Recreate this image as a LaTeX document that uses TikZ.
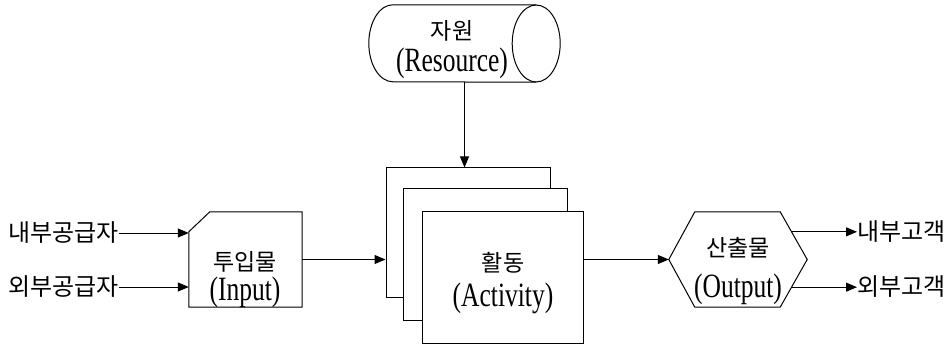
\documentclass[tikz,border=0pt]{standalone}
\usepackage{fontspec}
\setmainfont{Liberation Serif}[FakeStretch=0.75]
\newfontfamily\kr{Noto Sans CJK KR}
\usetikzlibrary{arrows.meta, calc, positioning}

\begin{document}
\begin{tikzpicture}[x=1pt,y=-1pt]
\tikzstyle{shp}=[draw=black, line width=1pt, fill=white, inner sep=0pt]
\tikzstyle{frame}=[inner sep=0pt]
\tikzstyle{edge}=[draw=black, line width=1pt, fill=white]
\tikzstyle{txt}=[inner sep=0pt, align=center, font=\fontsize{34}{35}\selectfont]
\tikzstyle{ktxt}=[inner sep=0pt, font=\kr\fontsize{24}{28}\selectfont]
\tikzstyle{arr}=[-{Triangle[length=11pt,width=9pt]}, line width=1pt]
\useasboundingbox (0,0) rectangle (949,347);
% resource
\node[frame, minimum width=191pt, minimum height=77pt] (res) at (464.5,43.5) {};
\path[edge] ([xshift=-24pt]res.north east) -- ([xshift=24pt]res.north west)
  arc (90:270:24pt and 38.5pt) -- ([xshift=-24pt]res.south east);
\draw[line width=1pt] ([xshift=-24pt]res.east) ellipse (24pt and 38.5pt);
\node[txt] (restext) at (452,50) {{\kr\fontsize{23}{26}\selectfont 자원}\\[-3pt](Resource)};
% activity (three sheets)
\node[shp, minimum width=164pt, minimum height=129pt] (act1) at (468,232.5) {};
\node[shp, minimum width=164pt, minimum height=131pt] (act2) at (485,254.5) {};
\node[shp, minimum width=161pt, minimum height=131pt] (act3) at (502.5,277.5) {};
\node[txt] (acttext) at (503,283) {{\kr\fontsize{23}{26}\selectfont 활동}\\[0pt](Activity)};
% input
\node[frame, minimum width=113pt, minimum height=95pt] (inp) at (245.5,259.5) {};
\path[edge] (inp.south west) -- ([yshift=-20pt]inp.north west) -- ([xshift=21pt]inp.north west)
  -- (inp.north east) -- (inp.south east) -- cycle;
\node[txt] (inptext) at (245,280) {{\kr\fontsize{23}{26}\selectfont 투입물}\\[-5pt](Input)};
% output
\node[frame, minimum width=138pt, minimum height=95pt] (out) at (738,259.5) {};
\path[edge] (out.west) -- ([xshift=26pt]out.north west) -- ([xshift=-27pt]out.north east)
  -- (out.east) -- ([xshift=-27pt]out.south east) -- ([xshift=26pt]out.south west) -- cycle;
\node[txt] (outtext) at (738,271) {{\kr\fontsize{23}{26}\selectfont 산출물}\\[6pt](Output)};
\coordinate (outup) at ($([xshift=-27pt]out.north east)!0.42!(out.east)$);
\coordinate (outdn) at ($([xshift=-27pt]out.south east)!0.42!(out.east)$);
% suppliers and customers
\node[ktxt, anchor=east] (sup1) at (119,233) {내부공급자};
\node[ktxt, anchor=east] (sup2) at (119,287) {외부공급자};
\node[ktxt, anchor=west] (cust1) at (857,232) {내부고객};
\node[ktxt, anchor=west] (cust2) at (857,287) {외부고객};
% connectors
\draw[arr] (res.south) -- (res.south |- act1.north);
\draw[arr] (sup1.east) -- (sup1.east -| inp.west);
\draw[arr] (sup2.east) -- (sup2.east -| inp.west);
\draw[arr] (inp.east) -- (inp.east -| act1.west);
\draw[arr] (out.west -| act3.east) -- (out.west);
\draw[arr] (outup) -- (outup -| cust1.west);
\draw[arr] (outdn) -- (outdn -| cust2.west);
\end{tikzpicture}
\end{document}
